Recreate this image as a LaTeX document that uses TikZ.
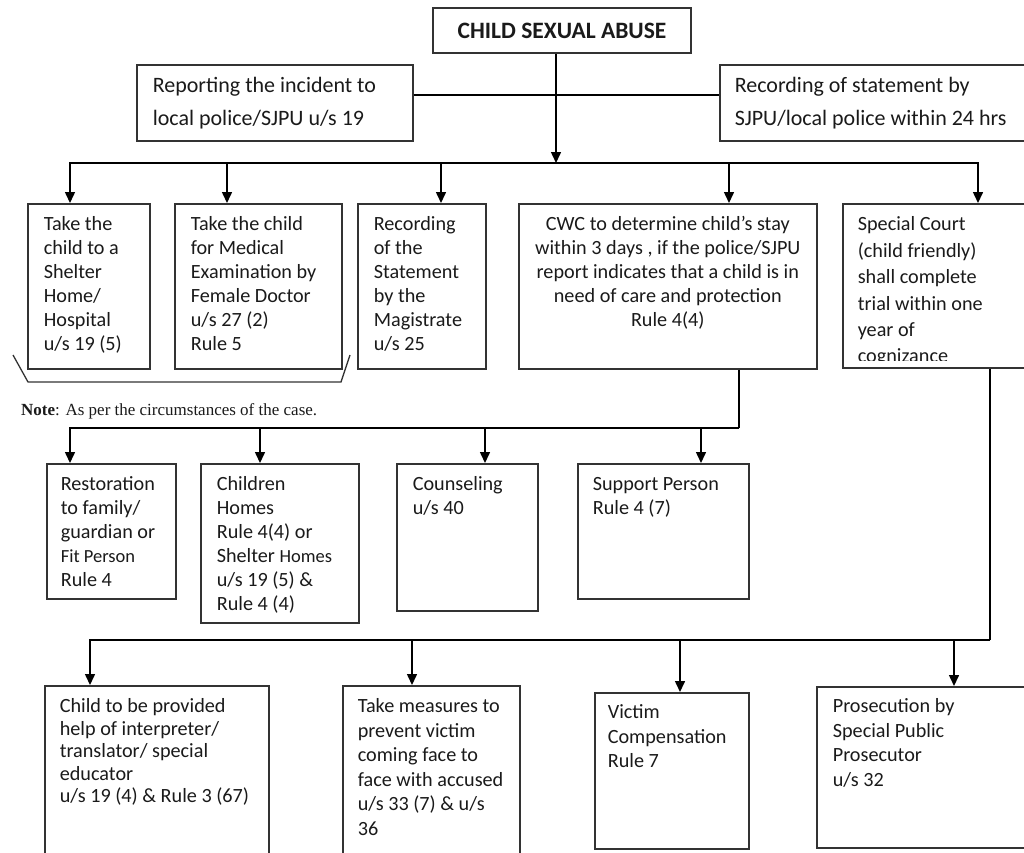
\documentclass[tikz,border=0pt]{standalone}
\usepackage{fontspec}
\setmainfont{Carlito}
\newfontfamily\notefont{Liberation Serif}
\usetikzlibrary{arrows.meta}
\definecolor{boxc}{HTML}{333333}
\definecolor{txtc}{HTML}{1A1A1A}
\newcommand\btl[4]{\begin{minipage}[t][#2pt][t]{#1pt}\raggedright\rule{0pt}{#3pt}#4\end{minipage}}
\newcommand\btc[4]{\begin{minipage}[t][#2pt][t]{#1pt}\centering\rule{0pt}{#3pt}#4\end{minipage}}
\newcommand\smalltxt[1]{{\fontsize{18.5}{24}\selectfont #1}}
\tikzset{
  bx/.style={draw=boxc, line width=1.6pt, inner ysep=0pt, anchor=north west, text=txtc,
             font=\fontsize{20.2}{24}\selectfont},
  bxtight/.style={bx, font=\fontsize{20.2}{22.5}\selectfont},
  bxloose/.style={bx, font=\fontsize{20.2}{24.5}\selectfont},
  ln/.style={draw=black, line width=1.5pt},
  arr/.style={ln, -{Triangle[length=11pt,width=10pt]}},
}
\begin{document}
\begin{tikzpicture}[x=1pt,y=-1pt]
\useasboundingbox (0,0) rectangle (1024,852);
\clip (0,0) rectangle (1024,852);

% title
\node[draw=boxc, line width=1.6pt, minimum width=258pt, minimum height=45pt, inner sep=0pt,
      text=txtc, font=\bfseries\fontsize{23.5}{28}\selectfont] (top) at (562,30.5) {CHILD SEXUAL ABUSE};

% top side boxes
\node[bx, inner xsep=16pt, font=\fontsize{22}{33}\selectfont] (rep) at (136,64)
  {\btl{244}{76}{28}{Reporting the incident to\\local police/SJPU u/s 19}};
\node[bx, inner xsep=15pt, font=\fontsize{22}{33}\selectfont] (rec) at (719,64)
  {\btl{286}{76}{28}{Recording of statement by\\SJPU/local police within 24 hrs}};

% row 1
\node[bx, inner xsep=16pt] (nA) at (27,203)
  {\btl{90}{165}{27}{Take the\\child to a\\Shelter\\Home/\\Hospital\\u/s 19 (5)}};
\node[bx, inner xsep=16pt] (nB) at (174,203)
  {\btl{135}{165}{27}{Take the child\\for Medical\\Examination by\\Female Doctor\\u/s 27 (2)\\Rule 5}};
\node[bx, inner xsep=16pt] (nC) at (357,203)
  {\btl{96}{165}{27}{Recording\\of the\\Statement\\by the\\Magistrate\\u/s 25}};
\node[bx, inner xsep=8pt] (nD) at (518,203)
  {\btc{282}{165}{27}{CWC to determine child’s stay\\within 3 days , if the police/SJPU\\report indicates that a child is in\\need of care and protection\\Rule 4(4)}};
\node[bx, inner xsep=15pt, font=\fontsize{20.2}{26.4}\selectfont] (nE) at (842,203)
  {\btl{170}{164}{27}{Special Court\\(child friendly)\\shall complete\\trial within one\\year of\\cognizance}};
\fill[white] (843.5,361) rectangle (1025,366);

% bracket and note
\draw[line width=1.3pt, draw=boxc] (13,355) -- (28,382) -- (341,382) -- (350,355);
\node[anchor=base west, inner sep=0pt, text=txtc, font=\notefont\fontsize{17}{20}\selectfont] (note) at (21,415)
  {\textbf{Note}: As per the circumstances of the case.};

% row 2
\node[bx, inner xsep=14pt] (nF) at (46,463)
  {\btl{101}{135}{27}{Restoration\\to family/\\guardian or\\\smalltxt{Fit Person}\\Rule 4}};
\node[bx, inner xsep=16pt] (nG) at (200,463)
  {\btl{126}{159}{27}{Children\\Homes\\Rule 4(4) or\\Shelter \smalltxt{Homes}\\u/s 19 (5) \&\\Rule 4 (4)}};
\node[bx, inner xsep=16pt] (nH) at (396,463)
  {\btl{109}{147}{27}{Counseling\\u/s 40}};
\node[bx, inner xsep=15pt] (nI) at (577,463)
  {\btl{141}{135}{27}{Support Person\\Rule 4 (7)}};

% row 3
\node[bxtight, inner xsep=15pt] (nJ) at (44,685)
  {\btl{194}{200}{27}{Child to be provided\\help of interpreter/\\translator/ special\\educator\\u/s 19 (4) \& Rule 3 (67)}};
\node[bxloose, inner xsep=15pt] (nK) at (342,685)
  {\btl{147}{200}{27}{Take measures to\\prevent victim\\coming face to\\face with accused\\u/s 33 (7) \& u/s\\36}};
\node[bxloose, inner xsep=13pt] (nL) at (594,692)
  {\btl{128}{156}{26}{Victim\\Compensation\\Rule 7}};
\node[bxloose, inner xsep=16pt] (nM) at (816,686)
  {\btl{191}{161}{26}{Prosecution by\\Special Public\\Prosecutor\\u/s 32}};

% connectors: top level
\draw[ln] ([yshift=8pt]rep.east) -- ([yshift=8pt]rec.west);
\coordinate (b0) at (556,163);
\coordinate (bL) at (70,163);
\coordinate (bR) at (978,163);
\coordinate (b2) at (227,163);
\coordinate (b3) at (441,163);
\coordinate (b4) at (729,163);
\draw[arr] (top.south -| b0) -- (b0);
\draw[arr] (b0) -| (bL |- nA.north);
\draw[arr] (b0) -| (bR |- nE.north);
\draw[arr] (b2) -- (b2 |- nB.north);
\draw[arr] (b3) -- (b3 |- nC.north);
\draw[arr] (b4) -- (b4 |- nD.north);

% connectors: from CWC
\coordinate (r2R) at (739,428);
\coordinate (r2L) at (70,428);
\coordinate (r22) at (260,428);
\coordinate (r23) at (485,428);
\coordinate (r24) at (701,428);
\draw[ln] (nD.south -| r2R) -- (r2R);
\draw[arr] (r2R) -| (r2L |- nF.north);
\draw[arr] (r22) -- (r22 |- nG.north);
\draw[arr] (r23) -- (r23 |- nH.north);
\draw[arr] (r24) -- (r24 |- nI.north);

% connectors: from Special Court
\coordinate (r3R) at (990,640);
\coordinate (r3L) at (90,640);
\coordinate (r32) at (412,640);
\coordinate (r33) at (680,640);
\coordinate (r34) at (954,640);
\draw[ln] (nE.south -| r3R) -- (r3R);
\draw[arr] (r3R) -| (r3L |- nJ.north);
\draw[arr] (r32) -- (r32 |- nK.north);
\draw[arr] (r33) -- (r33 |- nL.north);
\draw[arr] (r34) -- (r34 |- nM.north);
\end{tikzpicture}
\end{document}
